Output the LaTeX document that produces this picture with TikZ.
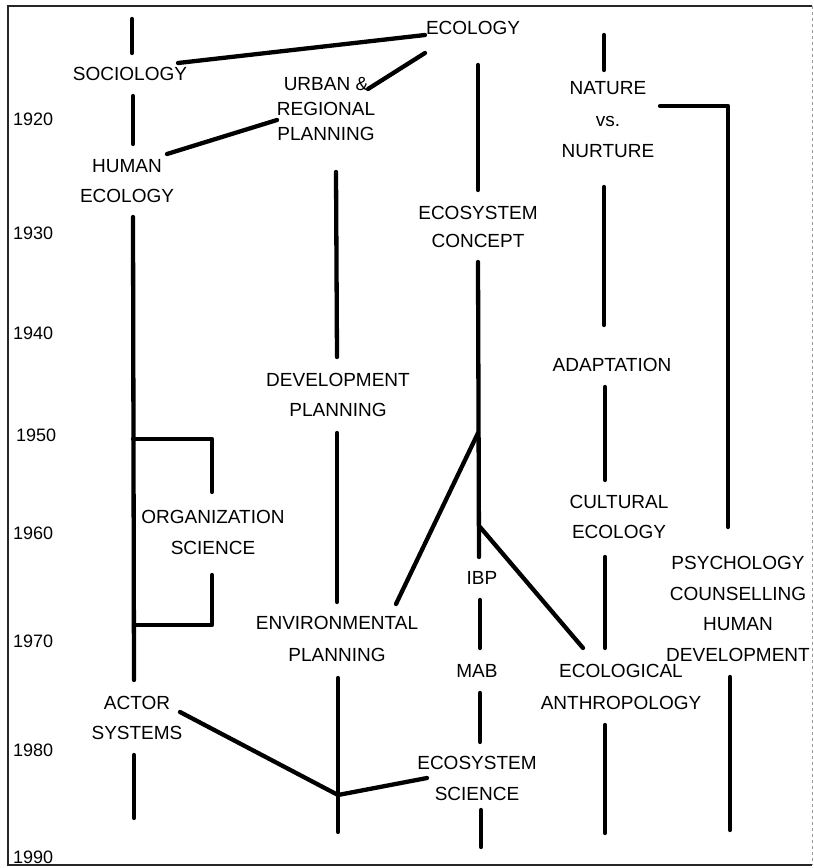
\documentclass[tikz,border=0pt]{standalone}
\usepackage{fontspec}
\setmainfont{Liberation Sans}
\begin{document}
\begin{tikzpicture}[x=1pt,y=-1pt,
  lbl/.style={font=\fontsize{19}{#1}\selectfont, align=center, inner sep=0pt},
  lbl/.default=30,
  yr/.style={font=\fontsize{18}{20}\selectfont, anchor=west, inner sep=0pt},
  conn/.style={line width=4.3pt, line cap=round, line join=round},
  frame/.style={line width=1.4pt, black!85}]
\useasboundingbox (0,0) rectangle (814,868);
% frame
\draw[frame] (812,6) -- (8,6) -- (8,865) -- (812,865);
\draw[black!40, line width=0.6pt, dashed] (812,6) -- (812,865);
% years
\node[yr] (y1920) at (13,119) {1920};
\node[yr] (y1930) at (13,233) {1930};
\node[yr] (y1940) at (13,333) {1940};
\node[yr] (y1950) at (16,435) {1950};
\node[yr] (y1960) at (13,533) {1960};
\node[yr] (y1970) at (13,641) {1970};
\node[yr] (y1980) at (13,750) {1980};
\node[yr] (y1990) at (13,857) {1990};
% labels
\node[lbl] (ecology) at (473,28) {ECOLOGY};
\node[lbl] (soc) at (130,74) {SOCIOLOGY};
\node[lbl=25] (urban) at (326,109) {URBAN \&\\REGIONAL\\PLANNING};
\node[lbl=30] (human) at (127,181) {HUMAN\\ECOLOGY};
\node[lbl=31.5] (nature) at (608,120) {NATURE\\vs.\\NURTURE};
\node[lbl=28] (ecocon) at (478,227) {ECOSYSTEM\\CONCEPT};
\node[lbl] (adapt) at (612,365) {ADAPTATION};
\node[lbl=30] (devplan) at (338,395) {DEVELOPMENT\\PLANNING};
\node[lbl=30] (cultural) at (619,517) {CULTURAL\\ECOLOGY};
\node[lbl=31] (org) at (213,532) {ORGANIZATION\\SCIENCE};
\node[lbl=30.7] (psych) at (738,609) {PSYCHOLOGY\\COUNSELLING\\HUMAN\\DEVELOPMENT};
\node[lbl] (ibp) at (482,578) {IBP};
\node[lbl=32] (envplan) at (337,639) {ENVIRONMENTAL\\PLANNING};
\node[lbl] (mab) at (477,671) {MAB};
\node[lbl=32] (ecoanth) at (621,687) {ECOLOGICAL\\ANTHROPOLOGY};
\node[lbl=30] (actor) at (137,718) {ACTOR\\SYSTEMS};
\node[lbl=31] (ecosci) at (477,778) {ECOSYSTEM\\SCIENCE};
% connector end points
\coordinate (a1) at (132,19);  \coordinate (a2) at (132,53);
\coordinate (a3) at (133,96);  \coordinate (a4) at (133,144);
\coordinate (a5) at (133,217); \coordinate (a6) at (134,680);
\coordinate (bt0) at (133,439); \coordinate (bt1) at (212,439); \coordinate (bt2) at (212,492);
\coordinate (bb0) at (212,575); \coordinate (bb1) at (212,625); \coordinate (bb2) at (134,625);
\coordinate (a7) at (134,755); \coordinate (a8) at (134,818);
\coordinate (se0) at (178,63);  \coordinate (se1) at (425,35);
\coordinate (ue0) at (368,89);  \coordinate (ue1) at (425,53);
\coordinate (hu0) at (167,154); \coordinate (hu1) at (277,120);
\coordinate (b1) at (336,172); \coordinate (b2) at (337,357);
\coordinate (b3) at (337,433); \coordinate (b4) at (337,602);
\coordinate (b5) at (338,678); \coordinate (b6) at (338,832);
\coordinate (as0) at (180,712); \coordinate (vj) at (338,795); \coordinate (as1) at (427,778);
\coordinate (c1) at (478,65);  \coordinate (c2) at (478,190);
\coordinate (c3) at (478,262); \coordinate (c4) at (479,557);
\coordinate (j1) at (478,433); \coordinate (j1e) at (396,604);
\coordinate (j2) at (480,527); \coordinate (j2e) at (583,648);
\coordinate (c5) at (480,600); \coordinate (c6) at (480,648);
\coordinate (c7) at (480,693); \coordinate (c8) at (480,742);
\coordinate (c9) at (481,810); \coordinate (c10) at (481,847);
\coordinate (d1) at (604,35);  \coordinate (d2) at (604,70);
\coordinate (d3) at (604,187); \coordinate (d4) at (604,325);
\coordinate (d5) at (605,387); \coordinate (d6) at (605,480);
\coordinate (d7) at (605,557); \coordinate (d8) at (605,648);
\coordinate (d9) at (605,725); \coordinate (d10) at (605,833);
\coordinate (n0) at (660,106); \coordinate (n1) at (728,106); \coordinate (n2) at (728,527);
\coordinate (e1) at (730,677); \coordinate (e2) at (730,830);
% connectors
\draw[conn] (a1) -- (a2);
\draw[conn] (a3) -- (a4);
\draw[conn] (a5) -- (a6);
\draw[conn] (bt0) -- (bt1) -- (bt2);
\draw[conn] (bb0) -- (bb1) -- (bb2);
\draw[conn] (a7) -- (a8);
\draw[conn] (se0) -- (se1);
\draw[conn] (ue0) -- (ue1);
\draw[conn] (hu0) -- (hu1);
\draw[conn] (b1) -- (b2);
\draw[conn] (b3) -- (b4);
\draw[conn] (b5) -- (b6);
\draw[conn] (as0) -- (vj) -- (as1);
\draw[conn] (c1) -- (c2);
\draw[conn] (c3) -- (c4);
\draw[conn] (j1) -- (j1e);
\draw[conn] (j2) -- (j2e);
\draw[conn] (c5) -- (c6);
\draw[conn] (c7) -- (c8);
\draw[conn] (c9) -- (c10);
\draw[conn] (d1) -- (d2);
\draw[conn] (d3) -- (d4);
\draw[conn] (d5) -- (d6);
\draw[conn] (d7) -- (d8);
\draw[conn] (d9) -- (d10);
\draw[conn] (n0) -- (n1) -- (n2);
\draw[conn] (e1) -- (e2);
\end{tikzpicture}
\end{document}
